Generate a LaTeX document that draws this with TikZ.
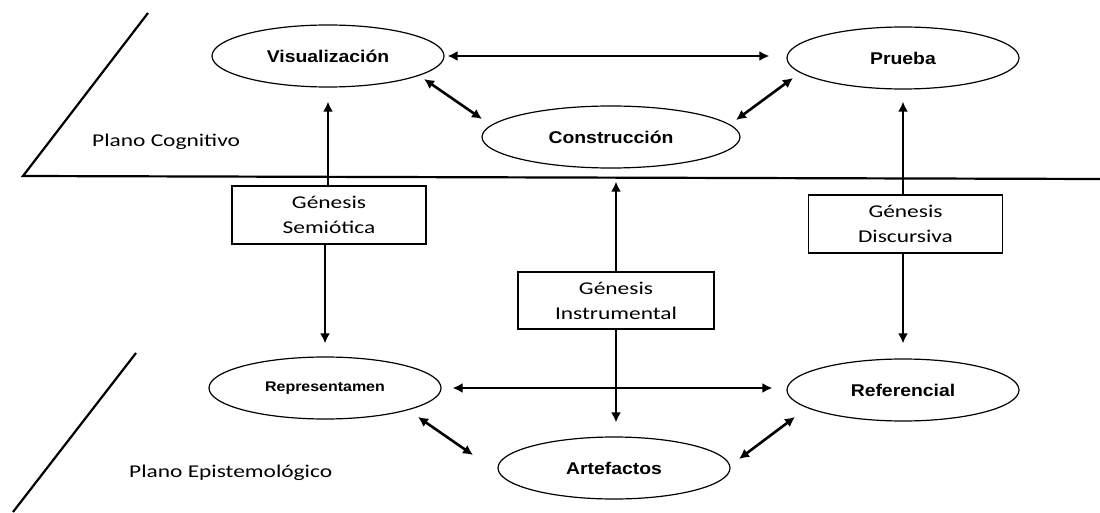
\documentclass[tikz,border=0pt]{standalone}
\usepackage{fontspec}
\usetikzlibrary{shapes.geometric,arrows.meta}
\newfontfamily\plfont{Carlito}[FakeStretch=1.3]
\newfontfamily\lbfont{Liberation Sans Bold}[FakeStretch=1.14]
\begin{document}
\begin{tikzpicture}[x=1pt,y=-1pt,
  ell/.style={ellipse, draw, line width=1.2pt, minimum width=232pt, minimum height=62pt, inner sep=0pt, font=\lbfont\fontsize{17}{20}\selectfont},
  gbox/.style={rectangle, draw, line width=1.2pt, minimum width=194pt, minimum height=58pt, inner sep=0pt, align=center, font=\plfont\fontsize{18}{25}\selectfont},
  arr/.style={line width=2.6pt, -{Latex[length=10pt,width=10pt]}},
  darr/.style={line width=2.6pt, {Latex[length=10pt,width=10pt]}-{Latex[length=10pt,width=10pt]}},
  plane/.style={line width=2.2pt},
  plab/.style={anchor=west, inner sep=0pt, font=\plfont\fontsize{18}{22}\selectfont}]
\useasboundingbox (0,0) rectangle (1100,513);
\fill[white] (0,0) rectangle (1100,513);

% planes
\coordinate (p1) at (148,13);
\coordinate (p2) at (23,176);
\coordinate (p3) at (1100,179);
\draw[plane] (p1) -- (p2) -- (p3);
\coordinate (q1) at (136,353);
\coordinate (q2) at (13,512);
\draw[plane] (q1) -- (q2);
\node[plab] (pc) at (92,142) {Plano Cognitivo};
\node[plab] (pe) at (129,473) {Plano Epistemológico};

% ellipses
\node[ell] (viz) at (328,56) {Visualización};
\node[ell] (pru) at (903,58) {Prueba};
\node[ell, minimum width=258pt] (con) at (611,137) {Construcción};
\node[ell] (rep) at (325,388) {\fontsize{14}{16}\selectfont Representamen};
\node[ell] (ref) at (903,390) {Referencial};
\node[ell] (art) at (614,468) {Artefactos};

% boxes
\node[gbox] (gs) at (329,215) {Génesis\\Semiótica};
\node[gbox] (gd) at (905.5,224) {Génesis\\Discursiva};
\node[gbox, minimum width=196pt, minimum height=57pt] (gi) at (616,300.5) {Génesis\\Instrumental};

% vertical arrows
\draw[arr, shorten >=14pt] (viz.south |- gs.north) -- (viz.south);
\draw[arr, shorten >=13pt] (rep.north |- gs.south) -- (rep.north);
\draw[arr, shorten >=12pt] (pru.south |- gd.north) -- (pru.south);
\draw[arr, shorten >=15pt] (ref.north |- gd.south) -- (ref.north);
\draw[arr, shorten >=13pt] (gi.north) -- (gi.north |- con.south);
\draw[arr, shorten >=14pt] (gi.south) -- (gi.south |- art.north);

% horizontal arrows
\draw[darr, shorten <=3pt, shorten >=17pt] (viz.east) -- (viz.east -| pru.west);
\draw[darr, shorten <=11pt, shorten >=14pt] (rep.east) -- (rep.east -| ref.west);

% diagonal arrows
\coordinate (d1a) at (424,79);  \coordinate (d1b) at (482,119);
\coordinate (d2a) at (793,78);  \coordinate (d2b) at (736,120);
\coordinate (d3a) at (418,417); \coordinate (d3b) at (473,455);
\coordinate (d4a) at (795,417); \coordinate (d4b) at (739,459);
\draw[darr] (d1a) -- (d1b);
\draw[darr] (d2a) -- (d2b);
\draw[darr] (d3a) -- (d3b);
\draw[darr] (d4a) -- (d4b);
\end{tikzpicture}
\end{document}
